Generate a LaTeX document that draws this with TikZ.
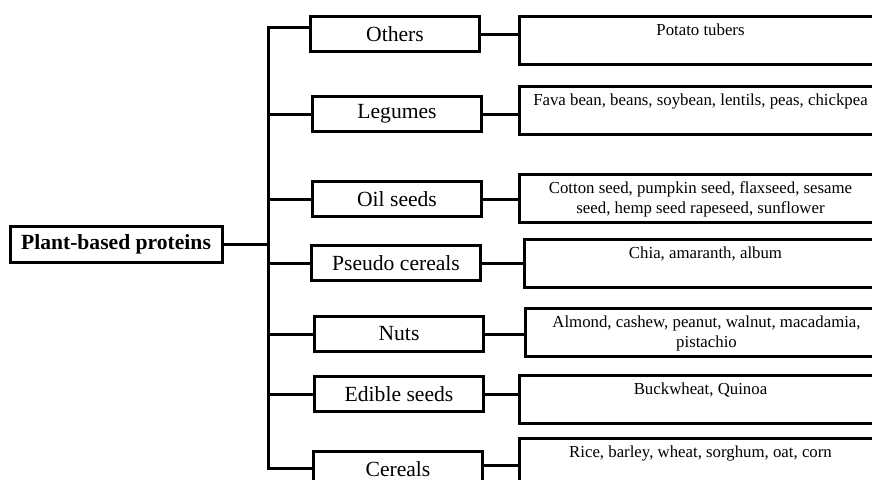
\documentclass[tikz,border=0pt]{standalone}
\usepackage{fontspec}
\setmainfont{Liberation Serif}
\usetikzlibrary{positioning}

\tikzset{
  rootbox/.style={draw,line width=1.5pt,inner sep=0pt,minimum width=106pt,minimum height=18pt,
    font=\fontsize{10.8}{13}\selectfont\bfseries},
  catbox/.style={draw,line width=1.5pt,inner sep=0pt,anchor=north west,minimum width=84.5pt,minimum height=17.5pt,
    font=\fontsize{10.8}{13}\selectfont},
  detbox/.style={draw,line width=1.5pt,inner sep=0pt,anchor=north west,minimum width=181pt,minimum height=24pt},
  dettext/.style={inner sep=0pt,align=center,font=\fontsize{8.4}{10}\selectfont},
  link/.style={line width=1.5pt}
}

\begin{document}
\begin{tikzpicture}[x=0.5pt,y=-0.5pt]
        \useasboundingbox (0,0) rectangle (872,479);
        \clip (0,0) rectangle (872,479);

        \node[rootbox] (root) at (116,244) {Plant-based proteins};

        \node[catbox] (oth) at (309,15) {Others};
        \node[catbox] (leg) at (311,95) {Legumes};
        \node[catbox] (oil) at (311,180) {Oil seeds};
        \node[catbox] (pse) at (310,244) {Pseudo cereals};
        \node[catbox] (nut) at (313,315) {Nuts};
        \node[catbox] (edi) at (313,375) {Edible seeds};
        \node[catbox] (cer) at (312,450) {Cereals};

        \node[detbox] (dOth) at (518,15) {};
        \node[detbox] (dLeg) at (518,85) {};
        \node[detbox] (dOil) at (518,173) {};
        \node[detbox] (dPse) at (523,238) {};
        \node[detbox] (dNut) at (524,307) {};
        \node[detbox] (dEdi) at (518,374) {};
        \node[detbox] (dCer) at (518,437) {};

        \node[dettext,below=4.3pt of dOth.north] {Potato tubers};
        \node[dettext,below=4.3pt of dLeg.north] {Fava bean, beans, soybean, lentils, peas, chickpea};
        \node[dettext,below=4.3pt of dOil.north] {Cotton seed, pumpkin seed, flaxseed, sesame\\seed, hemp seed rapeseed, sunflower};
        \node[dettext,below=4.3pt of dPse.north] {Chia, amaranth, album};
        \node[dettext,below=4.3pt of dNut.north] {Almond, cashew, peanut, walnut, macadamia,\\pistachio};
        \node[dettext,below=4.3pt of dEdi.north] {Buckwheat, Quinoa};
        \node[dettext,below=4.3pt of dCer.north] {Rice, barley, wheat, sorghum, oat, corn};

        \coordinate (sp1) at (268,27);
        \coordinate (sp2) at (268,468);

        \draw[link] (oth.west |- sp1) -- (sp1) -- (sp2) -- (cer.west |- sp2);
        \draw[link] (root.east) -- (root.east -| sp1);
        \draw[link] (leg.west -| sp1) -- (leg.west);
        \draw[link] (oil.west -| sp1) -- (oil.west);
        \draw[link] (pse.west -| sp1) -- (pse.west);
        \draw[link] (nut.west -| sp1) -- (nut.west);
        \draw[link] (edi.west -| sp1) -- (edi.west);

        \draw[link] (oth.east) -- (oth.east -| dOth.west);
        \draw[link] (leg.east) -- (leg.east -| dLeg.west);
        \draw[link] (oil.east) -- (oil.east -| dOil.west);
        \draw[link] (pse.east) -- (pse.east -| dPse.west);
        \draw[link] (nut.east) -- (nut.east -| dNut.west);
        \draw[link] (edi.east) -- (edi.east -| dEdi.west);
        \draw[link] ([yshift=2pt]cer.east) -- ([yshift=2pt]cer.east -| dCer.west);
      \end{tikzpicture}
\end{document}
